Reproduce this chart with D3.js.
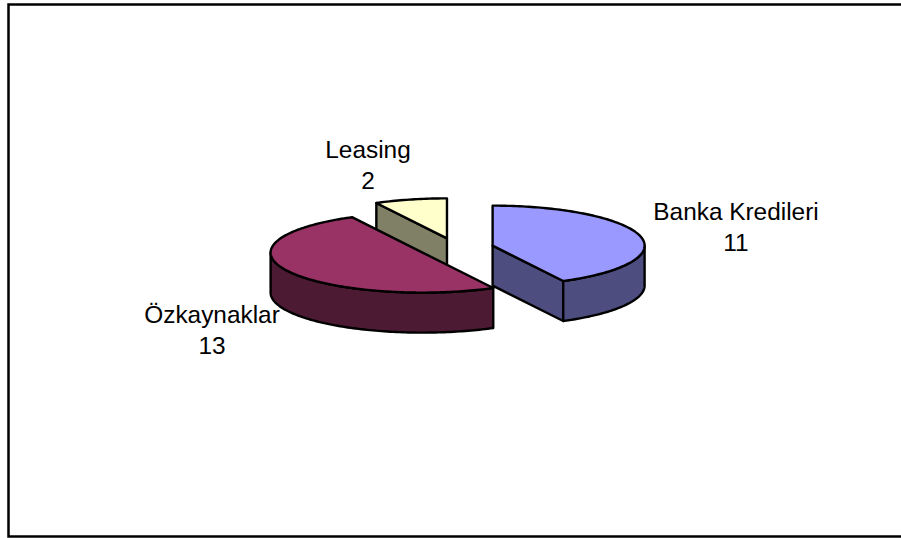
<!DOCTYPE html>
<html>
<head>
<meta charset="utf-8">
<script src="https://cdn.jsdelivr.net/npm/d3@7"></script>
<style>
  html, body { margin: 0; padding: 0; background: #fff; }
  svg { display: block; }
</style>
</head>
<body>
<svg id="chart" width="901" height="538"></svg>
<script>
// Funding sources
const categories = ["Banka Kredileri", "Özkaynaklar", "Leasing"];
const values = [11, 13, 2];

// Slice colours: top face and darker side walls
const topColors = ["#9999FF", "#993366", "#FFFFCC"];
const sideColors = ["#4D4D80", "#4D1A33", "#808066"];

// Label placement (centre x, baseline of first line)
const labelPos = [[736, 220], [212, 323], [368, 158]];

const svg = d3.select("#chart");

// Outer frame (open on the right side)
svg.append("path")
  .attr("d", "M905,4.5 H8.5 V536.5 H905")
  .attr("fill", "none")
  .attr("stroke", "#000")
  .attr("stroke-width", 2.5);

// 3D pie geometry
const cx = 456, cy = 248;       // pie centre
const rx = 152, ry = 40;        // ellipse radii of the top face
const depth = 40;               // thickness of the pie
const explode = 37.7;           // explosion distance (in x units)
const k = ry / rx;

const pie = d3.pie().sort(null).value(d => d.value)
  .startAngle(0).endAngle(2 * Math.PI);
const arcs = pie(categories.map((c, i) => ({ name: c, value: values[i], i })));

const line = d3.line();

function pt(a, ox, oy, dy = 0) {
  return [ox + rx * Math.sin(a), oy - ry * Math.cos(a) + dy];
}
function arcPts(a0, a1, ox, oy, dy = 0) {
  const n = Math.max(2, Math.ceil(Math.abs(a1 - a0) / 0.02));
  return d3.range(n + 1).map(t => pt(a0 + (a1 - a0) * t / n, ox, oy, dy));
}

const slices = arcs.map(d => {
  const mid = (d.startAngle + d.endAngle) / 2;
  return {
    ...d,
    ox: cx + explode * Math.sin(mid),
    oy: cy - explode * k * Math.cos(mid)
  };
}).sort((a, b) => a.oy - b.oy);

const g = svg.append("g")
  .attr("stroke", "#000")
  .attr("stroke-width", 2.4)
  .attr("stroke-linejoin", "round");

slices.forEach(s => {
  const i = s.data.i;
  const { ox, oy, startAngle: a0, endAngle: a1 } = s;
  const sg = g.append("g");

  // radial wall faces that turn toward the viewer
  const walls = [];
  if (Math.sin(a0) < -1e-6) walls.push(a0);
  if (Math.sin(a1) > 1e-6) walls.push(a1);
  walls.forEach(a => {
    const p = pt(a, ox, oy);
    const pts = [[ox, oy], p, [p[0], p[1] + depth], [ox, oy + depth]];
    sg.append("path")
      .attr("d", line(pts) + "Z")
      .attr("fill", sideColors[i]);
  });

  // outer rim on the front half
  const r0 = Math.max(a0, Math.PI / 2), r1 = Math.min(a1, 3 * Math.PI / 2);
  if (r1 > r0) {
    const topPts = arcPts(r0, r1, ox, oy);
    const botPts = arcPts(r1, r0, ox, oy, depth);
    sg.append("path")
      .attr("d", line(topPts.concat(botPts)) + "Z")
      .attr("fill", sideColors[i]);
  }

  // top face
  const topFace = [[ox, oy]].concat(arcPts(a0, a1, ox, oy));
  sg.append("path")
    .attr("d", line(topFace) + "Z")
    .attr("fill", topColors[i]);
});

// Data labels: category name and value
const labels = svg.append("g")
  .attr("font-family", "'Liberation Sans', Arial, sans-serif")
  .attr("font-size", 24.4)
  .attr("fill", "#000")
  .attr("text-anchor", "middle");

arcs.forEach(d => {
  const [lx, ly] = labelPos[d.data.i];
  const t = labels.append("text").attr("x", lx).attr("y", ly);
  t.append("tspan").attr("x", lx).attr("y", ly).text(d.data.name);
  t.append("tspan").attr("x", lx).attr("y", ly + 31).text(d.data.value);
});
</script>
</body>
</html>
